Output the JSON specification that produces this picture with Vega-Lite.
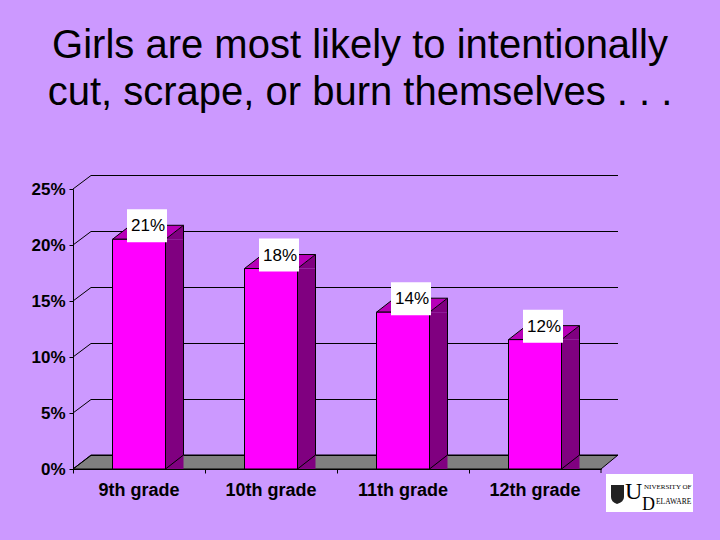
{
  "$schema": "https://vega.github.io/schema/vega-lite/v6.json",
  "description": "Share of girls who intentionally cut, scrape or burn themselves, by grade",
  "width": 528,
  "height": 280,
  "autosize": {"type": "none"},
  "padding": {"left": 73, "top": 189, "right": 119, "bottom": 71},
  "background": "#CC99FF",
  "view": {"stroke": null},
  "title": {
    "text": ["Girls are most likely to intentionally", "cut, scrape, or burn themselves . . ."],
    "anchor": "middle",
    "frame": "group",
    "dx": 23,
    "offset": 61,
    "font": "Liberation Sans",
    "fontSize": 40,
    "fontWeight": "normal",
    "lineHeight": 47,
    "color": "#000000"
  },
  "datasets": {
    "bars": [
      {"grade": "9th grade", "pct": 0.2051},
      {"grade": "10th grade", "pct": 0.179},
      {"grade": "11th grade", "pct": 0.14},
      {"grade": "12th grade", "pct": 0.1155}
    ],
    "ticks": [
      {"grade": "9th grade", "tick": 0},
      {"grade": "9th grade", "tick": 0.05},
      {"grade": "9th grade", "tick": 0.1},
      {"grade": "9th grade", "tick": 0.15},
      {"grade": "9th grade", "tick": 0.2},
      {"grade": "9th grade", "tick": 0.25}
    ],
    "logo": [{"grade": "12th grade", "pct": 0}]
  },
  "layer": [
    {
      "data": {"values": [{"grade": "9th grade", "pct": 0}]},
      "mark": {"type": "point", "shape": "M-66,0L-48,-14H479L462,0Z", "size": 4, "filled": true, "fill": "#808080", "stroke": "#000000", "strokeWidth": 1, "opacity": 1},
      "encoding": {
        "x": {
          "field": "grade",
          "type": "nominal",
          "title": null,
          "scale": {"type": "band", "paddingInner": 0, "paddingOuter": 0, "domain": ["9th grade", "10th grade", "11th grade", "12th grade"]},
          "axis": {
            "labelAngle": 0,
            "bandPosition": 0,
            "labelFont": "Liberation Sans",
            "labelFontSize": 18,
            "labelFontWeight": "bold",
            "labelColor": "#000000",
            "labelPadding": 17,
            "labelBaseline": "middle",
            "labelBound": false,
            "labelFlush": false,
            "tickSize": 4,
            "tickColor": "#000000",
            "domainColor": "#000000",
            "zindex": 1
          }
        },
        "y": {
          "field": "pct",
          "type": "quantitative",
          "title": null,
          "scale": {"domain": [0, 0.25], "nice": false},
          "axis": {
            "format": ".0%",
            "values": [0, 0.05, 0.1, 0.15, 0.2, 0.25],
            "grid": false,
            "labelFont": "Liberation Sans",
            "labelFontSize": 17,
            "labelFontWeight": "bold",
            "labelColor": "#000000",
            "labelPadding": 4,
            "tickSize": 4,
            "tickColor": "#000000",
            "domainColor": "#000000",
            "zindex": 1
          }
        }
      }
    },
    {
      "data": {"name": "ticks"},
      "mark": {"type": "point", "shape": "M-66,0L-48,-13.5H479", "size": 4, "filled": false, "stroke": "#000000", "strokeWidth": 1, "opacity": 1},
      "encoding": {
        "x": {"field": "grade", "type": "nominal", "title": null},
        "y": {"field": "tick", "type": "quantitative", "title": null}
      }
    },
    {
      "data": {"name": "bars"},
      "mark": {"type": "bar", "width": 18, "xOffset": 35.5, "y2Offset": -14, "fill": "#800080"},
      "encoding": {
        "x": {"field": "grade", "type": "nominal", "title": null},
        "y": {"field": "pct", "type": "quantitative", "title": null}
      }
    },
    {
      "data": {"name": "bars"},
      "mark": {"type": "point", "shape": "M26.5,0L44.5,-14V0Z", "size": 4, "filled": true, "fill": "#800080", "strokeWidth": 0, "opacity": 1},
      "encoding": {
        "x": {"field": "grade", "type": "nominal", "title": null},
        "y": {"field": "pct", "type": "quantitative", "title": null}
      }
    },
    {
      "data": {"name": "bars"},
      "mark": {"type": "point", "shape": "M26.5,0L44.5,-14H26.5Z", "size": 4, "filled": true, "fill": "#800080", "strokeWidth": 0, "opacity": 1},
      "encoding": {
        "x": {"field": "grade", "type": "nominal", "title": null},
        "y": {"datum": 0, "type": "quantitative", "title": null}
      }
    },
    {
      "data": {"name": "bars"},
      "mark": {"type": "point", "shape": "M26.5,0L44.5,-14", "size": 4, "filled": false, "stroke": "#000000", "strokeWidth": 1, "opacity": 1},
      "encoding": {
        "x": {"field": "grade", "type": "nominal", "title": null},
        "y": {"datum": 0, "type": "quantitative", "title": null}
      }
    },
    {
      "data": {"name": "bars"},
      "mark": {"type": "rule", "color": "#000000", "strokeWidth": 1, "xOffset": 44.5, "yOffset": -14, "y2Offset": -14},
      "encoding": {
        "x": {"field": "grade", "type": "nominal", "title": null},
        "y": {"field": "pct", "type": "quantitative", "title": null},
        "y2": {"datum": 0}
      }
    },
    {
      "data": {"name": "bars"},
      "mark": {"type": "point", "shape": "M-26.5,0L-8.5,-14H44.5L26.5,0Z", "size": 4, "filled": true, "fill": "#B800B8", "stroke": "#000000", "strokeWidth": 1, "opacity": 1},
      "encoding": {
        "x": {"field": "grade", "type": "nominal", "title": null},
        "y": {"field": "pct", "type": "quantitative", "title": null}
      }
    },
    {
      "data": {"name": "bars"},
      "mark": {"type": "bar", "width": 53, "fill": "#FF00FF", "stroke": "#000000", "strokeWidth": 1},
      "encoding": {
        "x": {"field": "grade", "type": "nominal", "title": null},
        "y": {"field": "pct", "type": "quantitative", "title": null}
      }
    },
    {
      "data": {"name": "bars"},
      "mark": {"type": "point", "shape": "M-12,-30H28V3H-12Z", "size": 4, "filled": true, "fill": "#FFFFFF", "strokeWidth": 0, "opacity": 1},
      "encoding": {
        "x": {"field": "grade", "type": "nominal", "title": null},
        "y": {"field": "pct", "type": "quantitative", "title": null}
      }
    },
    {
      "data": {"name": "bars"},
      "mark": {"type": "text", "font": "Liberation Sans", "fontSize": 17, "color": "#000000", "dx": 9, "dy": -13},
      "encoding": {
        "x": {"field": "grade", "type": "nominal", "title": null},
        "y": {"field": "pct", "type": "quantitative", "title": null},
        "text": {"field": "pct", "type": "quantitative", "format": ".0%"}
      }
    },
    {
      "data": {"name": "logo"},
      "mark": {"type": "point", "shape": "M71,5H158V43H71Z", "size": 4, "filled": true, "fill": "#FFFFFF", "strokeWidth": 0, "opacity": 1},
      "encoding": {
        "x": {"field": "grade", "type": "nominal", "title": null},
        "y": {"field": "pct", "type": "quantitative", "title": null}
      }
    },
    {
      "data": {"name": "logo"},
      "mark": {"type": "point", "shape": "M76,16H89V28Q89,33 82,35Q76,33 76,28Z", "size": 4, "filled": true, "fill": "#222222", "strokeWidth": 0, "opacity": 1},
      "encoding": {
        "x": {"field": "grade", "type": "nominal", "title": null},
        "y": {"field": "pct", "type": "quantitative", "title": null}
      }
    },
    {
      "data": {"name": "logo"},
      "mark": {"type": "text", "font": "Liberation Serif", "fontSize": 24, "color": "#000000", "align": "left", "baseline": "alphabetic", "dx": 90, "dy": 30},
      "encoding": {
        "x": {"field": "grade", "type": "nominal", "title": null},
        "y": {"field": "pct", "type": "quantitative", "title": null},
        "text": {"value": "U"}
      }
    },
    {
      "data": {"name": "logo"},
      "mark": {"type": "text", "font": "Liberation Serif", "fontSize": 18, "color": "#000000", "align": "left", "baseline": "alphabetic", "dx": 107, "dy": 41},
      "encoding": {
        "x": {"field": "grade", "type": "nominal", "title": null},
        "y": {"field": "pct", "type": "quantitative", "title": null},
        "text": {"value": "D"}
      }
    },
    {
      "data": {"name": "logo"},
      "mark": {"type": "text", "font": "Liberation Serif", "fontSize": 7, "color": "#000000", "align": "left", "baseline": "alphabetic", "dx": 109, "dy": 20},
      "encoding": {
        "x": {"field": "grade", "type": "nominal", "title": null},
        "y": {"field": "pct", "type": "quantitative", "title": null},
        "text": {"value": "NIVERSITY OF"}
      }
    },
    {
      "data": {"name": "logo"},
      "mark": {"type": "text", "font": "Liberation Serif", "fontSize": 7.5, "color": "#000000", "align": "left", "baseline": "alphabetic", "dx": 121, "dy": 35},
      "encoding": {
        "x": {"field": "grade", "type": "nominal", "title": null},
        "y": {"field": "pct", "type": "quantitative", "title": null},
        "text": {"value": "ELAWARE"}
      }
    },
    {
      "data": {"name": "logo"},
      "mark": {"type": "point", "shape": "M66,0V4", "size": 4, "filled": false, "stroke": "#000000", "strokeWidth": 1, "opacity": 1},
      "encoding": {
        "x": {"field": "grade", "type": "nominal", "title": null},
        "y": {"field": "pct", "type": "quantitative", "title": null}
      }
    }
  ]
}
